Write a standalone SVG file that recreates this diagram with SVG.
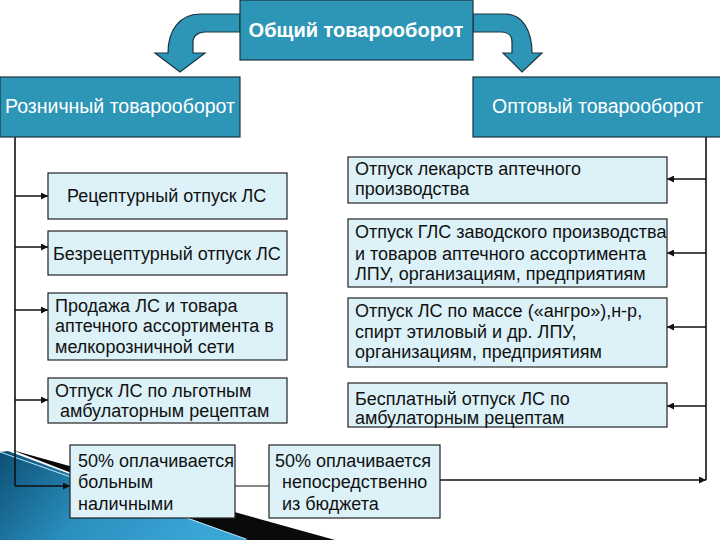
<svg xmlns="http://www.w3.org/2000/svg" width="720" height="540" viewBox="0 0 720 540">
<defs>
<linearGradient id="deco" x1="0" y1="0" x2="1" y2="0.3">
<stop offset="0" stop-color="#0d4f74"/>
<stop offset="0.5" stop-color="#2a8fbf"/>
<stop offset="1" stop-color="#3aa6d6"/>
</linearGradient>
<marker id="ah" viewBox="0 0 10 10" refX="10" refY="5" markerWidth="7" markerHeight="7" markerUnits="userSpaceOnUse" orient="auto">
<path d="M0,0 L10,5 L0,10 Z" fill="#111"/>
</marker>
<style>
.hdr{fill:#2d96b6;stroke:#1b3440;stroke-width:1.2}
.box{fill:#dcf2f8;stroke:#222;stroke-width:1.2}
.ht{font-family:"Liberation Sans",Arial,sans-serif;fill:#fff;font-size:19.5px}
.t{font-family:"Liberation Sans",Arial,sans-serif;fill:#111;font-size:18px}
.ln{stroke:#111;stroke-width:1.6;fill:none}
.arr{fill:#2d96b6;stroke:#1b3440;stroke-width:1.2}
</style>
</defs>
<rect width="720" height="540" fill="#fff"/>
<g id="decoration">
<polygon points="12,450 335,540 245,540" fill="#0a0a0a"/>
<polygon points="0,452 8,451 248,540 0,540" fill="url(#deco)"/>
<line x1="0" y1="452" x2="246" y2="539" stroke="#bfe6f5" stroke-width="1"/>
</g>
<g id="big-arrows">
<path class="arr" d="M240,14 L200,14 C180,14 168,30 168,53 L155,53 L180,72 L205,53 L193,53 L193,42 C193,36 198,32 205,32 L240,32 Z"/>
<path class="arr" d="M473,14 L505,14 C522,14 532,30 532,53 L542,53 L522,72 L503,53 L512,53 L512,42 C512,36 508,32 501,32 L473,32 Z"/>
</g>
<g id="connectors">
<path class="ln" d="M15,137 V486"/>
<path class="ln" d="M15,196 H48" marker-end="url(#ah)"/>
<path class="ln" d="M15,247 H48" marker-end="url(#ah)"/>
<path class="ln" d="M15,310 H48" marker-end="url(#ah)"/>
<path class="ln" d="M15,400 H48" marker-end="url(#ah)"/>
<path class="ln" d="M15,486 H70" marker-end="url(#ah)"/>
<path class="ln" d="M706,137 V480"/>
<path class="ln" d="M706,179 H667" marker-end="url(#ah)"/>
<path class="ln" d="M706,253 H667" marker-end="url(#ah)"/>
<path class="ln" d="M706,327 H667" marker-end="url(#ah)"/>
<path class="ln" d="M706,406 H667" marker-end="url(#ah)"/>
<path class="ln" d="M440,480 H706" marker-end="url(#ah)"/>
<path class="ln" d="M235,486 H269" style="stroke-width:1.2"/>
</g>
<g id="n-total">
<rect class="hdr" x="240" y="0" width="233" height="60"/>
<text class="ht" x="356" y="37" text-anchor="middle" font-weight="bold" style="font-size:20px">Общий товарооборот</text>
</g>
<g id="n-retail">
<rect class="hdr" x="0" y="77" width="240" height="60"/>
<text class="ht" x="5" y="113">Розничный товарооборот</text>
</g>
<g id="n-wholesale">
<rect class="hdr" x="473" y="77" width="250" height="60"/>
<text class="ht" x="492" y="113">Оптовый товарооборот</text>
</g>
<g id="n-l1">
<rect class="box" x="48" y="173" width="239" height="46"/>
<text class="t" x="67" y="202">Рецептурный отпуск ЛС</text>
</g>
<g id="n-l2">
<rect class="box" x="48" y="231" width="239" height="44"/>
<text class="t" x="53" y="260">Безрецептурный отпуск ЛС</text>
</g>
<g id="n-l3">
<rect class="box" x="48" y="293" width="239" height="67"/>
<text class="t" x="55" y="312">Продажа ЛС и товара</text>
<text class="t" x="55" y="332">аптечного ассортимента в</text>
<text class="t" x="55" y="353">мелкорозничной сети</text>
</g>
<g id="n-l4">
<rect class="box" x="48" y="378" width="239" height="45"/>
<text class="t" x="55" y="397">Отпуск ЛС по льготным</text>
<text class="t" x="60" y="417">амбулаторным рецептам</text>
</g>
<g id="n-b1">
<rect class="box" x="70" y="445" width="165" height="73"/>
<text class="t" x="78" y="467">50% оплачивается</text>
<text class="t" x="78" y="488">больным</text>
<text class="t" x="78" y="510">наличными</text>
</g>
<g id="n-b2">
<rect class="box" x="269" y="445" width="171" height="73"/>
<text class="t" x="275" y="467">50% оплачивается</text>
<text class="t" x="282" y="488">непосредственно</text>
<text class="t" x="282" y="510">из бюджета</text>
</g>
<g id="n-r1">
<rect class="box" x="348" y="157" width="319" height="46"/>
<text class="t" x="355" y="175">Отпуск лекарств аптечного</text>
<text class="t" x="355" y="195">производства</text>
</g>
<g id="n-r2">
<rect class="box" x="348" y="219" width="319" height="68"/>
<text class="t" x="355" y="238">Отпуск ГЛС заводского производства</text>
<text class="t" x="355" y="260">и товаров аптечного ассортимента</text>
<text class="t" x="355" y="280">ЛПУ, организациям, предприятиям</text>
</g>
<g id="n-r3">
<rect class="box" x="348" y="298" width="319" height="69"/>
<text class="t" x="355" y="317">Отпуск ЛС по массе («ангро»),н-р,</text>
<text class="t" x="355" y="338">спирт этиловый и др. ЛПУ,</text>
<text class="t" x="355" y="358">организациям, предприятиям</text>
</g>
<g id="n-r4">
<rect class="box" x="348" y="383" width="319" height="44"/>
<text class="t" x="355" y="405">Бесплатный отпуск ЛС по</text>
<text class="t" x="355" y="424">амбулаторным рецептам</text>
</g>
</svg>
